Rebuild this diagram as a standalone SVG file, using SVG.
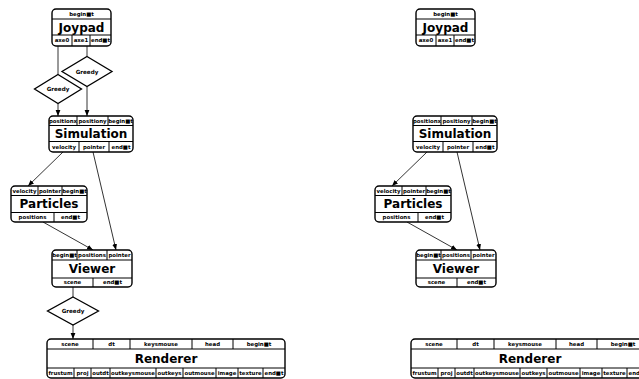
<svg xmlns="http://www.w3.org/2000/svg" width="639" height="379" viewBox="0 0 639 379">
<style>
.box{fill:#fff;stroke:#000;stroke-width:1.4}
.ln{stroke:#000;stroke-width:1;fill:none}
.s{font-family:"DejaVu Sans",sans-serif;font-weight:bold;font-size:5.4px;text-anchor:middle;fill:#000}
.t{font-family:"DejaVu Sans",sans-serif;font-weight:bold;font-size:12px;text-anchor:middle;fill:#000}
.g{font-family:"DejaVu Sans",sans-serif;font-weight:bold;font-size:5.6px;text-anchor:middle;fill:#000}
.c{stroke:#000;stroke-width:0.8;fill:none}
.ca{stroke:#000;stroke-width:0.8;fill:none;marker-end:url(#ah)}
.d{fill:#fff;stroke:#000;stroke-width:1.3}
</style>
<defs>
<marker id="ah" markerUnits="userSpaceOnUse" markerWidth="6" markerHeight="6" viewBox="0 0 6 6" refX="6" refY="3" orient="auto">
<path d="M0,0.6 L6,3 L0,5.4 Z" fill="#000"/>
</marker>
</defs>
<rect width="639" height="379" fill="#fff"/>

<g id="connectors">
<line class="c" x1="58" y1="46" x2="58" y2="74.5"/>
<line class="c" x1="87" y1="46" x2="87" y2="56.5"/>
<line class="ca" x1="58" y1="103.5" x2="58" y2="116"/>
<line class="ca" x1="87" y1="86.5" x2="87" y2="116"/>
<line class="ca" x1="63" y1="152" x2="28" y2="186"/>
<line class="ca" x1="93" y1="152" x2="116" y2="250"/>
<line class="ca" x1="43" y1="222" x2="93" y2="250"/>
<line class="c" x1="73" y1="287" x2="73" y2="297"/>
<line class="ca" x1="73" y1="325" x2="73" y2="339"/>
<line class="ca" x1="427" y1="152" x2="392" y2="186"/>
<line class="ca" x1="457" y1="152" x2="480" y2="250"/>
<line class="ca" x1="407" y1="222" x2="457" y2="250"/>
</g>

<g id="greedy1">
<polygon class="d" points="87,56.5 112,71.5 87,86.5 62,71.5"/>
<text class="g" x="87" y="73.5">Greedy</text>
</g>
<g id="greedy2">
<polygon class="d" points="58,74.5 81.5,89 58,103.5 34.5,89"/>
<text class="g" x="58" y="91">Greedy</text>
</g>
<g id="greedy3">
<polygon class="d" points="73,297 98.5,311 73,325 47.5,311"/>
<text class="g" x="73" y="313">Greedy</text>
</g>

<g id="joypad">
<rect class="box" x="52" y="9" width="59" height="37" rx="4"/>
<path class="ln" d="M52,19H111M52,35H111M72,35V46M90,35V46"/>
<text class="s" x="81.5" y="16">begin■t</text>
<text class="t" x="81.5" y="31.5">Joypad</text>
<text class="s" x="62" y="42.3">axe0</text>
<text class="s" x="81" y="42.3">axe1</text>
<text class="s" x="100.5" y="42.3">end■t</text>
</g>

<g id="simulation">
<rect class="box" x="49" y="116" width="84" height="36" rx="4"/>
<path class="ln" d="M49,125.5H133M49,141.5H133M77,116V125.5M108,116V125.5M79,141.5V152M109,141.5V152"/>
<text class="s" x="63" y="122.7">positionx</text>
<text class="s" x="92.5" y="122.7">positiony</text>
<text class="s" x="120.5" y="122.7">begin■t</text>
<text class="t" x="91" y="137.8">Simulation</text>
<text class="s" x="64" y="148.7">velocity</text>
<text class="s" x="94" y="148.7">pointer</text>
<text class="s" x="121" y="148.7">end■t</text>
</g>

<g id="particles">
<rect class="box" x="11" y="186" width="76" height="36" rx="4"/>
<path class="ln" d="M11,195.5H87M11,212.5H87M38,186V195.5M62,186V195.5M54,212.5V222"/>
<text class="s" x="24.5" y="192.7">velocity</text>
<text class="s" x="50" y="192.7">pointer</text>
<text class="s" x="74.5" y="192.7">begin■t</text>
<text class="t" x="49" y="208.3">Particles</text>
<text class="s" x="32.5" y="219.1">positions</text>
<text class="s" x="70.5" y="219.1">end■t</text>
</g>

<g id="viewer">
<rect class="box" x="52" y="250" width="80" height="37" rx="4"/>
<path class="ln" d="M52,260H132M52,278H132M77,250V260M107,250V260M93,278V287"/>
<text class="s" x="64.5" y="256.9">begin■t</text>
<text class="t" x="92" y="273.4">Viewer</text>
<text class="s" x="92" y="256.9">positions</text>
<text class="s" x="119.5" y="256.9">pointer</text>
<text class="s" x="72.5" y="284.4">scene</text>
<text class="s" x="112.5" y="284.4">end■t</text>
</g>

<g id="renderer">
<rect class="box" x="47" y="339" width="238" height="39" rx="4"/>
<path class="ln" d="M47,349H285M47,368H285M93,339V349M130,339V349M192,339V349M233,339V349M74,368V378M91,368V378M110,368V378M156,368V378M183,368V378M216,368V378M238,368V378M263,368V378"/>
<text class="s" x="70" y="345.9">scene</text>
<text class="s" x="111.5" y="345.9">dt</text>
<text class="s" x="161" y="345.9">keysmouse</text>
<text class="s" x="212.5" y="345.9">head</text>
<text class="s" x="259" y="345.9">begin■t</text>
<text class="t" x="166" y="362.8">Renderer</text>
<text class="s" x="60.5" y="374.9">frustum</text>
<text class="s" x="82.5" y="374.9">proj</text>
<text class="s" x="100.5" y="374.9">outdt</text>
<text class="s" x="133" y="374.9">outkeysmouse</text>
<text class="s" x="169.5" y="374.9">outkeys</text>
<text class="s" x="199.5" y="374.9">outmouse</text>
<text class="s" x="227" y="374.9">image</text>
<text class="s" x="250.5" y="374.9">texture</text>
<text class="s" x="274" y="374.9">end■t</text>
</g>

<g id="joypad-b" transform="translate(364,0)">
<rect class="box" x="52" y="9" width="59" height="37" rx="4"/>
<path class="ln" d="M52,19H111M52,35H111M72,35V46M90,35V46"/>
<text class="s" x="81.5" y="16">begin■t</text>
<text class="t" x="81.5" y="31.5">Joypad</text>
<text class="s" x="62" y="42.3">axe0</text>
<text class="s" x="81" y="42.3">axe1</text>
<text class="s" x="100.5" y="42.3">end■t</text>
</g>

<g id="simulation-b" transform="translate(364,0)">
<rect class="box" x="49" y="116" width="84" height="36" rx="4"/>
<path class="ln" d="M49,125.5H133M49,141.5H133M77,116V125.5M108,116V125.5M79,141.5V152M109,141.5V152"/>
<text class="s" x="63" y="122.7">positionx</text>
<text class="s" x="92.5" y="122.7">positiony</text>
<text class="s" x="120.5" y="122.7">begin■t</text>
<text class="t" x="91" y="137.8">Simulation</text>
<text class="s" x="64" y="148.7">velocity</text>
<text class="s" x="94" y="148.7">pointer</text>
<text class="s" x="121" y="148.7">end■t</text>
</g>

<g id="particles-b" transform="translate(364,0)">
<rect class="box" x="11" y="186" width="76" height="36" rx="4"/>
<path class="ln" d="M11,195.5H87M11,212.5H87M38,186V195.5M62,186V195.5M54,212.5V222"/>
<text class="s" x="24.5" y="192.7">velocity</text>
<text class="s" x="50" y="192.7">pointer</text>
<text class="s" x="74.5" y="192.7">begin■t</text>
<text class="t" x="49" y="208.3">Particles</text>
<text class="s" x="32.5" y="219.1">positions</text>
<text class="s" x="70.5" y="219.1">end■t</text>
</g>

<g id="viewer-b" transform="translate(364,0)">
<rect class="box" x="52" y="250" width="80" height="37" rx="4"/>
<path class="ln" d="M52,260H132M52,278H132M77,250V260M107,250V260M93,278V287"/>
<text class="s" x="64.5" y="256.9">begin■t</text>
<text class="t" x="92" y="273.4">Viewer</text>
<text class="s" x="92" y="256.9">positions</text>
<text class="s" x="119.5" y="256.9">pointer</text>
<text class="s" x="72.5" y="284.4">scene</text>
<text class="s" x="112.5" y="284.4">end■t</text>
</g>

<g id="renderer-b" transform="translate(364,0)">
<rect class="box" x="47" y="339" width="238" height="39" rx="4"/>
<path class="ln" d="M47,349H285M47,368H285M93,339V349M130,339V349M192,339V349M233,339V349M74,368V378M91,368V378M110,368V378M156,368V378M183,368V378M216,368V378M238,368V378M263,368V378"/>
<text class="s" x="70" y="345.9">scene</text>
<text class="s" x="111.5" y="345.9">dt</text>
<text class="s" x="161" y="345.9">keysmouse</text>
<text class="s" x="212.5" y="345.9">head</text>
<text class="s" x="259" y="345.9">begin■t</text>
<text class="t" x="166" y="362.8">Renderer</text>
<text class="s" x="60.5" y="374.9">frustum</text>
<text class="s" x="82.5" y="374.9">proj</text>
<text class="s" x="100.5" y="374.9">outdt</text>
<text class="s" x="133" y="374.9">outkeysmouse</text>
<text class="s" x="169.5" y="374.9">outkeys</text>
<text class="s" x="199.5" y="374.9">outmouse</text>
<text class="s" x="227" y="374.9">image</text>
<text class="s" x="250.5" y="374.9">texture</text>
<text class="s" x="274" y="374.9">end■t</text>
</g>
</svg>
